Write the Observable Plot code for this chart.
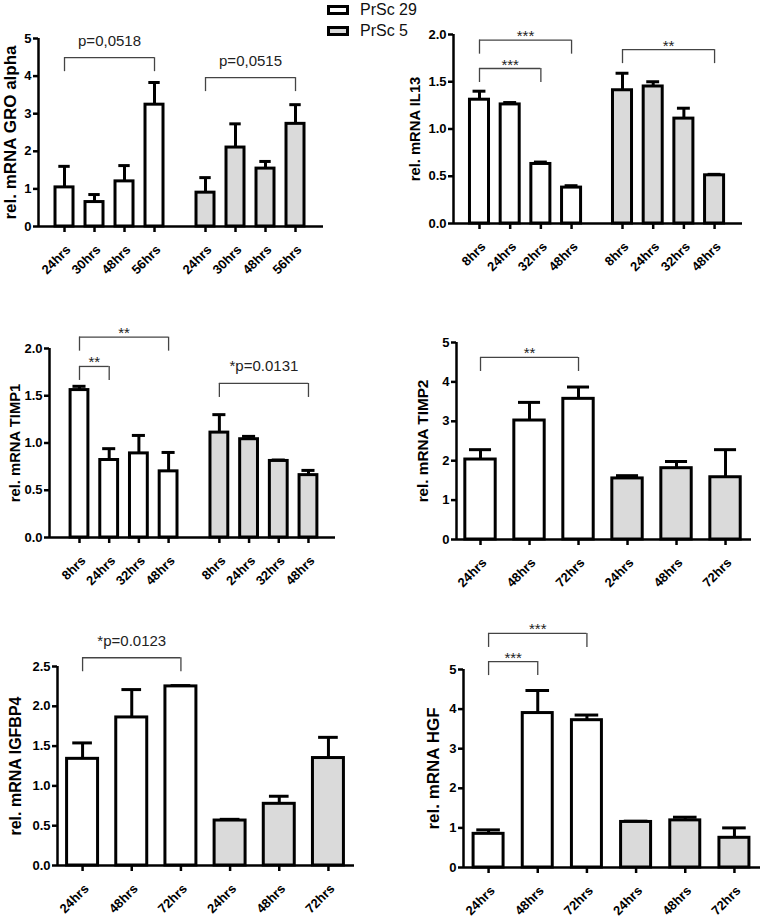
<!DOCTYPE html>
<html>
<head>
<meta charset="utf-8">
<script src="https://cdn.jsdelivr.net/npm/d3@7"></script>
<script src="https://cdn.jsdelivr.net/npm/@observablehq/plot@0.6"></script>
<style>
  body { margin: 0; background: white; font-family: "Liberation Sans", Arial, sans-serif; }
  #wrap { position: relative; width: 764px; height: 919px; overflow: hidden; }
  .panel { position: absolute; }
  .legend { position: absolute; left: 327px; top: -1px; font-size: 16px; color: #111; }
  .legend .row { display: flex; align-items: center; height: 21px; }
  .legend .sw { width: 16px; height: 4px; border: 3px solid black; margin-right: 11px; }
</style>
</head>
<body>
<div id="wrap"></div>
<script>
// ---------- data ----------
const seriesNames = ["PrSc 29", "PrSc 5"];
const seriesFills = ["white", "#dadada"];

const groTimes = ["24hrs", "30hrs", "48hrs", "56hrs"];
const groPrSc29 = [1.04, 0.65, 1.2, 3.24];
const groPrSc29Sem = [0.56, 0.2, 0.42, 0.59];
const groPrSc5 = [0.9, 2.1, 1.54, 2.73];
const groPrSc5Sem = [0.4, 0.63, 0.19, 0.51];
const groTicks = [0, 1, 2, 3, 4, 5];
const groBrackets = [
  {group: 0, from: 0, to: 3, y: 4.49, label: "p=0,0518"},
  {group: 1, from: 0, to: 3, y: 3.96, label: "p=0,0515"}
];

const il13Times = ["8hrs", "24hrs", "32hrs", "48hrs"];
const il13PrSc29 = [1.31, 1.26, 0.63, 0.38];
const il13PrSc29Sem = [0.09, 0.02, 0.02, 0.02];
const il13PrSc5 = [1.41, 1.45, 1.11, 0.51];
const il13PrSc5Sem = [0.18, 0.05, 0.11, 0.01];
const il13Ticks = [0, 0.5, 1, 1.5, 2];
const il13Brackets = [
  {group: 0, from: 0, to: 3, y: 1.94, label: "***"},
  {group: 0, from: 0, to: 2, y: 1.64, label: "***"},
  {group: 1, from: 0, to: 3, y: 1.84, label: "**"}
];

const timp1Times = ["8hrs", "24hrs", "32hrs", "48hrs"];
const timp1PrSc29 = [1.56, 0.82, 0.89, 0.70];
const timp1PrSc29Sem = [0.04, 0.12, 0.19, 0.20];
const timp1PrSc5 = [1.11, 1.04, 0.81, 0.66];
const timp1PrSc5Sem = [0.19, 0.03, 0.01, 0.05];
const timp1Ticks = [0, 0.5, 1, 1.5, 2];
const timp1Brackets = [
  {group: 0, from: 0, to: 3, y: 2.12, label: "**"},
  {group: 0, from: 0, to: 1, y: 1.81, label: "**"},
  {group: 1, from: 0, to: 3, y: 1.63, label: "*p=0.0131"}
];

const timp2Times = ["24hrs", "48hrs", "72hrs"];
const timp2PrSc29 = [2.03, 3.02, 3.57];
const timp2PrSc29Sem = [0.25, 0.46, 0.30];
const timp2PrSc5 = [1.55, 1.81, 1.58];
const timp2PrSc5Sem = [0.07, 0.17, 0.70];
const timp2Ticks = [0, 1, 2, 3, 4, 5];
const timp2Brackets = [
  {group: 0, from: 0, to: 2, y: 4.62, label: "**"}
];

const igfbp4Times = ["24hrs", "48hrs", "72hrs"];
const igfbp4PrSc29 = [1.34, 1.86, 2.25];
const igfbp4PrSc29Sem = [0.2, 0.35, 0.01];
const igfbp4PrSc5 = [0.565, 0.775, 1.35];
const igfbp4PrSc5Sem = [0.015, 0.095, 0.26];
const igfbp4Ticks = [0, 0.5, 1, 1.5, 2, 2.5];
const igfbp4Brackets = [
  {group: 0, from: 0, to: 2, y: 2.61, label: "*p=0.0123"}
];

const hgfTimes = ["24hrs", "48hrs", "72hrs"];
const hgfPrSc29 = [0.85, 3.90, 3.72];
const hgfPrSc29Sem = [0.10, 0.57, 0.13];
const hgfPrSc5 = [1.15, 1.19, 0.75];
const hgfPrSc5Sem = [0.02, 0.08, 0.25];
const hgfTicks = [0, 1, 2, 3, 4, 5];
const hgfBrackets = [
  {group: 0, from: 0, to: 2, y: 5.91, label: "***"},
  {group: 0, from: 0, to: 1, y: 5.2, label: "***"}
];

// ---------- layout ----------
const FONT = "'Liberation Sans', Arial, sans-serif";
const wrap = document.getElementById("wrap");

function panel(cfg) {
  const {times, s29, e29, s5, e5, ticks, brackets, ylabel} = cfg;
  const L = cfg.layout;
  const pos = (g, i) => g * L.groupOffset + i;
  const bars = [];
  [[s29, e29], [s5, e5]].forEach(([vals, errs], g) => {
    vals.forEach((v, i) => bars.push({g, i, pos: pos(g, i), v, e: errs[i], label: times[i]}));
  });
  const yMax = ticks[ticks.length - 1];
  const pxPerUnit = (L.height - L.mt - L.mb) / yMax;
  const drop = 14 / pxPerUnit;
  const bw = L.bw, cw = L.cw;
  const br = brackets.map(b => ({...b, x1: pos(b.group, b.from), x2: pos(b.group, b.to)}));
  const brEnds = br.flatMap(b => [{x: b.x1, y: b.y}, {x: b.x2, y: b.y}]);
  const isStar = s => /^\*+$/.test(s);

  const svg = Plot.plot({
    width: L.width, height: L.height,
    marginLeft: L.ml, marginRight: L.mr, marginTop: L.mt, marginBottom: L.mb,
    style: {background: "transparent", overflow: "visible", fontFamily: FONT, color: "black"},
    x: {type: "linear", domain: L.xDomain, axis: null},
    y: {domain: [0, yMax], axis: null},
    marks: [
      // error bars (upper only)
      Plot.ruleX(bars, {x: "pos", y1: "v", y2: d => d.v + d.e, stroke: "black", strokeWidth: 3}),
      Plot.ruleY(bars, {y: d => d.v + d.e, x1: d => d.pos - cw / 2, x2: d => d.pos + cw / 2, stroke: "black", strokeWidth: 3}),
      // bars
      Plot.rect(bars, {
        x1: d => d.pos - bw / 2, x2: d => d.pos + bw / 2, y1: 0, y2: "v",
        fill: d => seriesFills[d.g], stroke: "black", strokeWidth: 3
      }),
      // axes lines
      Plot.ruleY([0], {stroke: "black", strokeWidth: 2.5}),
      Plot.ruleX([L.xDomain[0]], {y1: 0, y2: yMax, stroke: "black", strokeWidth: 2.5}),
      Plot.axisY({
        ticks, tickFormat: L.yFormat, tickSize: 5, tickPadding: 2, strokeWidth: 2.5,
        fontSize: 13, fontWeight: "bold", label: null
      }),
      Plot.axisX({
        ticks: bars.map(b => b.pos), tickFormat: () => "",
        tickSize: 6, strokeWidth: 2.5, label: null
      }),
      // x tick labels, rotated
      Plot.text(bars, {
        x: "pos", y: 0, text: "label", rotate: -45, textAnchor: "end", lineAnchor: "middle",
        dx: 4, dy: 21, fontSize: 13, fontWeight: "bold", fill: "black"
      }),
      // y label
      Plot.text([ylabel], {
        frameAnchor: "left", dx: -L.labelDx, rotate: -90, text: d => d,
        fontSize: L.labelSize, fontWeight: "bold", textAnchor: "middle", lineAnchor: "middle"
      }),
      // significance brackets
      Plot.ruleY(br, {y: "y", x1: "x1", x2: "x2", stroke: "#444", strokeWidth: 1.3}),
      Plot.ruleX(brEnds, {x: "x", y1: "y", y2: d => d.y - drop, stroke: "#444", strokeWidth: 1.3}),
      Plot.text(br.filter(b => isStar(b.label)), {
        x: d => (d.x1 + d.x2) / 2, y: "y", text: "label", lineAnchor: "bottom",
        dy: 1, fontSize: 15, fill: "#222"
      }),
      Plot.text(br.filter(b => !isStar(b.label)), {
        x: d => (d.x1 + d.x2) / 2, y: "y", text: "label", lineAnchor: "bottom",
        dy: -12, fontSize: 15, fill: "#222"
      })
    ]
  });
  const div = document.createElement("div");
  div.className = "panel";
  div.style.left = L.left + "px";
  div.style.top = L.top + "px";
  div.appendChild(svg);
  wrap.appendChild(div);
}

const fmtInt = d3.format("d");
const fmt1 = d3.format(".1f");

panel({times: groTimes, s29: groPrSc29, e29: groPrSc29Sem, s5: groPrSc5, e5: groPrSc5Sem,
  ticks: groTicks, brackets: groBrackets, ylabel: "rel. mRNA GRO alpha",
  layout: {left: 0, top: 0, width: 340, height: 280, ml: 38, mr: 17, mt: 38, mb: 54,
    xDomain: [-0.867, 8.633], groupOffset: 4.7, bw: 0.6, cw: 0.38, yFormat: fmtInt, labelDx: 28, labelSize: 17}});

panel({times: il13Times, s29: il13PrSc29, e29: il13PrSc29Sem, s5: il13PrSc5, e5: il13PrSc5Sem,
  ticks: il13Ticks, brackets: il13Brackets, ylabel: "rel. mRNA IL13",
  layout: {left: 380, top: 0, width: 384, height: 280, ml: 73, mr: 22, mt: 34, mb: 57,
    xDomain: [-0.847, 8.57], groupOffset: 4.66, bw: 0.62, cw: 0.42, yFormat: fmt1, labelDx: 38, labelSize: 14.8}});

panel({times: timp1Times, s29: timp1PrSc29, e29: timp1PrSc29Sem, s5: timp1PrSc5, e5: timp1PrSc5Sem,
  ticks: timp1Ticks, brackets: timp1Brackets, ylabel: "rel. mRNA TIMP1",
  layout: {left: 0, top: 280, width: 380, height: 300, ml: 49, mr: 45, mt: 68, mb: 43,
    xDomain: [-1.01, 8.62], groupOffset: 4.71, bw: 0.6, cw: 0.44, yFormat: fmt1, labelDx: 34, labelSize: 14.8}});

panel({times: timp2Times, s29: timp2PrSc29, e29: timp2PrSc29Sem, s5: timp2PrSc5, e5: timp2PrSc5Sem,
  ticks: timp2Ticks, brackets: timp2Brackets, ylabel: "rel. mRNA TIMP2",
  layout: {left: 380, top: 280, width: 384, height: 300, ml: 76, mr: 13, mt: 62, mb: 41,
    xDomain: [-0.49, 5.53], groupOffset: 3, bw: 0.62, cw: 0.45, yFormat: fmtInt, labelDx: 33, labelSize: 15.3}});

panel({times: igfbp4Times, s29: igfbp4PrSc29, e29: igfbp4PrSc29Sem, s5: igfbp4PrSc5, e5: igfbp4PrSc5Sem,
  ticks: igfbp4Ticks, brackets: igfbp4Brackets, ylabel: "rel. mRNA IGFBP4",
  layout: {left: 0, top: 570, width: 380, height: 349, ml: 57, mr: 26, mt: 96, mb: 54,
    xDomain: [-0.51, 5.53], groupOffset: 3, bw: 0.63, cw: 0.4, yFormat: fmt1, labelDx: 42, labelSize: 16}});

panel({times: hgfTimes, s29: hgfPrSc29, e29: hgfPrSc29Sem, s5: hgfPrSc5, e5: hgfPrSc5Sem,
  ticks: hgfTicks, brackets: hgfBrackets, ylabel: "rel. mRNA HGF",
  layout: {left: 380, top: 570, width: 384, height: 349, ml: 83, mr: 4, mt: 99, mb: 52,
    xDomain: [-0.51, 5.53], groupOffset: 3, bw: 0.61, cw: 0.48, yFormat: fmtInt, labelDx: 30, labelSize: 17}});

// legend
const legend = document.createElement("div");
legend.className = "legend";
seriesNames.forEach((name, k) => {
  const row = document.createElement("div");
  row.className = "row";
  const sw = document.createElement("span");
  sw.className = "sw";
  sw.style.background = seriesFills[k];
  const t = document.createElement("span");
  t.textContent = name;
  row.appendChild(sw);
  row.appendChild(t);
  legend.appendChild(row);
});
wrap.appendChild(legend);
</script>
</body>
</html>
